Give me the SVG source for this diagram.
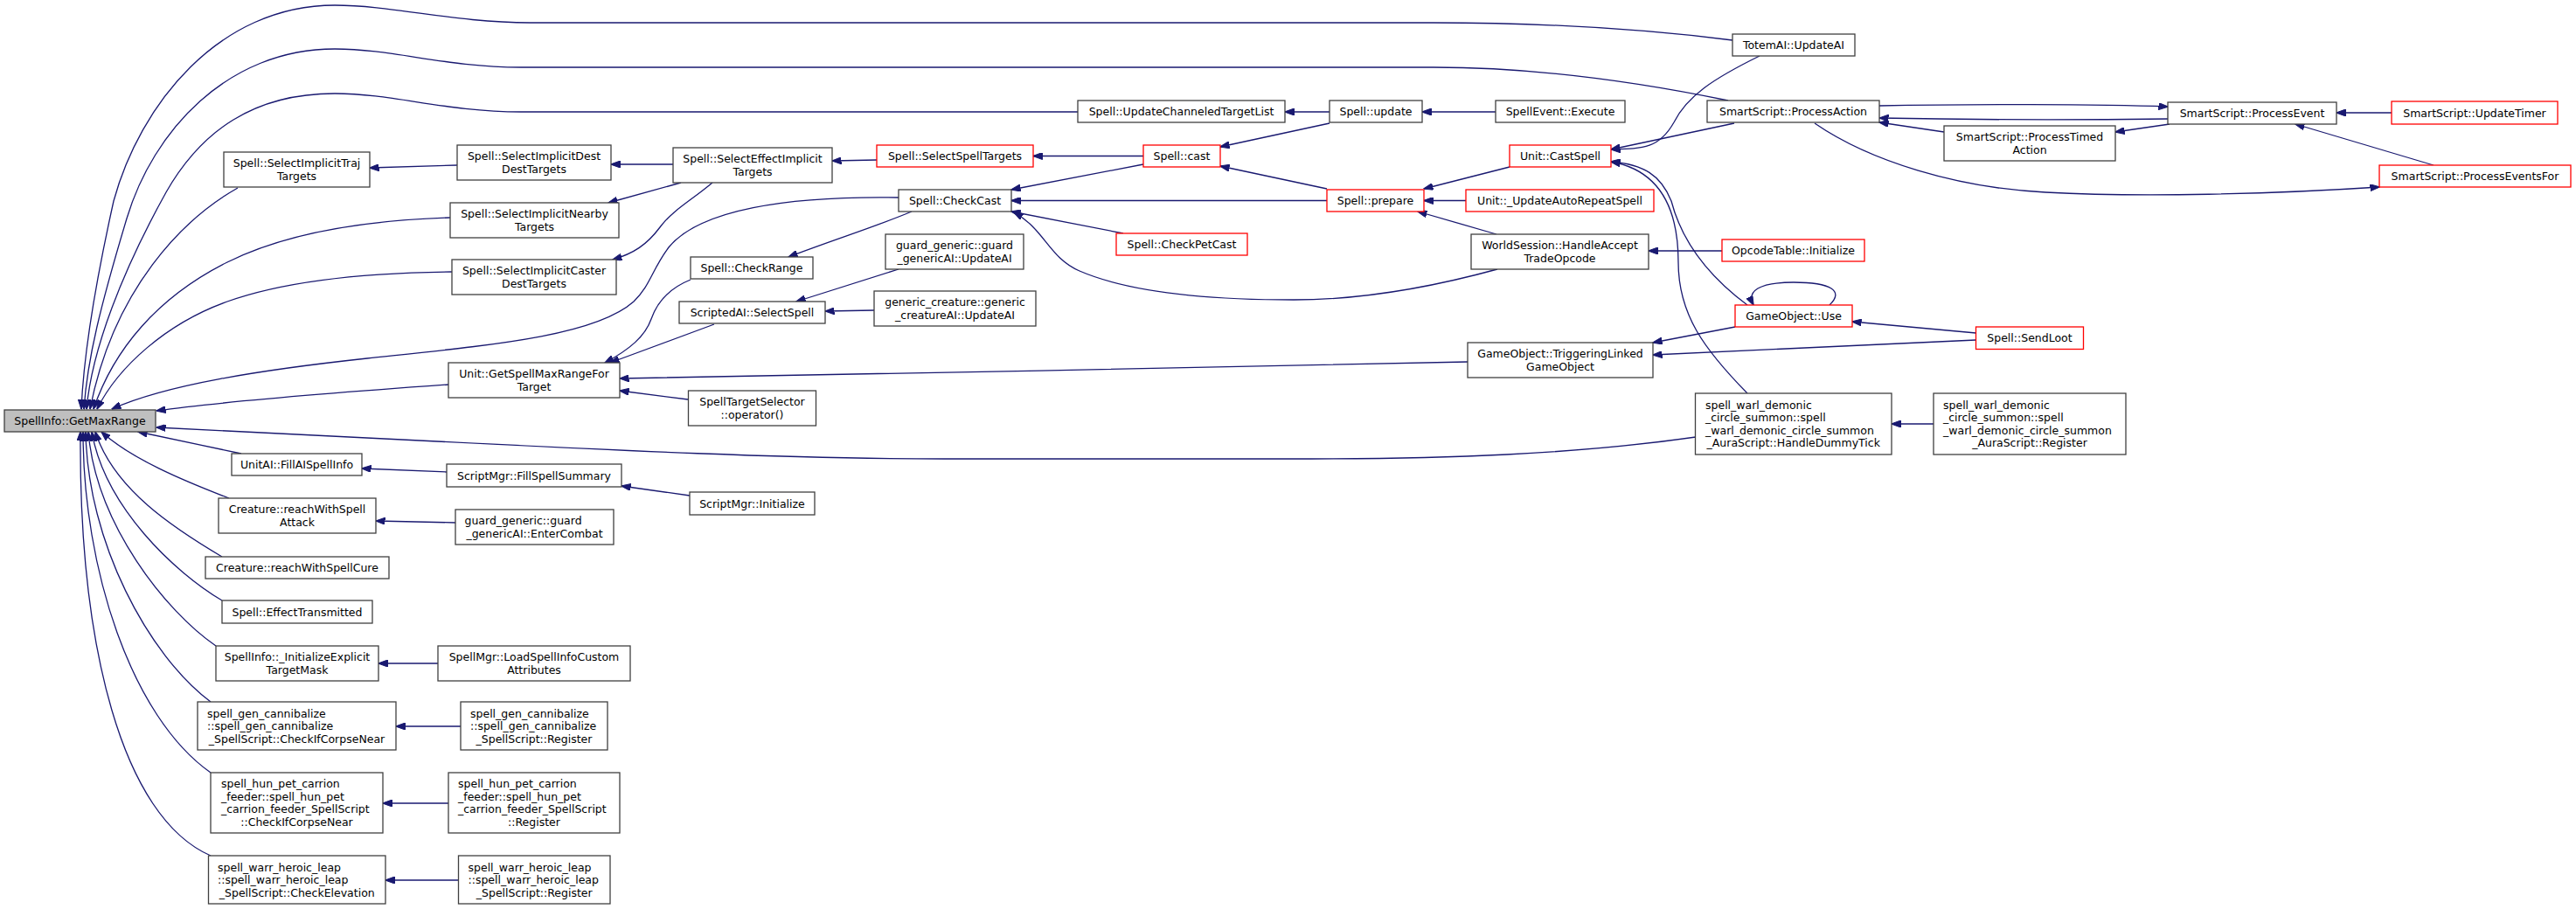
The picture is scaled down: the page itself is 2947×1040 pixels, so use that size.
<svg xmlns="http://www.w3.org/2000/svg" width="2947" height="1040" viewBox="0 0 2947 1040">
<style>
.bg{fill:#ffffff}
.n rect{fill:#ffffff;stroke:#404040;stroke-width:1.3}
.r rect{fill:#ffffff;stroke:#ff0000;stroke-width:1.3}
.g rect{fill:#bfbfbf;stroke:#404040;stroke-width:1.3}
text{font-family:"DejaVu Sans","Liberation Sans",sans-serif;font-size:12.5px;fill:#000000}
.c{text-anchor:middle}
.l{text-anchor:start}
.e path{fill:none;stroke:#191970;stroke-width:1.3;marker-end:url(#ah)}
</style>
<defs>
<marker id="ah" viewBox="0 0 11 8" refX="10.5" refY="4" markerWidth="11" markerHeight="8" orient="auto" markerUnits="userSpaceOnUse">
<path d="M0,0 L11,4 L0,8 z" fill="#191970" stroke="#191970" stroke-width="1"/>
</marker>
</defs>
<rect class="bg" x="0" y="0" width="2947" height="1040"/>

<g id="edges" class="e">
<!-- callers of root -->
<path d="M1982,46 C1880,33 1760,26 1640,26 L606,26 C520,26 450,6 383,6 C250,6 160,120 130,230 C110,320 96,400 93,468"/>
<path d="M1977,115 C1880,95 1760,77 1640,77 L596,77 C510,77 450,56 383,56 C260,56 175,150 145,250 C115,350 100,410 96,468"/>
<path d="M1233,128 L596,128 C510,128 450,107 383,107 C290,107 230,150 190,220 C140,310 105,400 99,468"/>
<path d="M272,215 C210,250 130,330 103,468"/>
<path d="M515,249 C420,252 330,265 260,300 C180,340 130,400 107,468"/>
<path d="M517,311 C420,312 330,320 260,345 C190,370 135,420 111,468"/>
<path d="M1028,226 C900,224 800,240 765,283 C745,310 745,325 725,345 C680,385 560,395 420,410 C300,423 190,440 128,468"/>
<path d="M513,440 C400,448 250,460 179,470"/>
<path d="M1940,500 C1800,520 1650,525 1500,525 L1080,525 C900,525 700,515 500,505 C350,498 250,493 179,489"/>
<path d="M276,519 L158,494"/>
<path d="M262,570 C210,550 150,525 116,494"/>
<path d="M254,637 C200,605 130,560 109,494"/>
<path d="M254,687 C200,655 120,580 105,494"/>
<path d="M247,739 C190,700 110,600 101,494"/>
<path d="M241,803 C170,750 100,620 98,494"/>
<path d="M241,884 C150,820 95,650 95,494"/>
<path d="M241,979 C140,935 90,740 92,494"/>
<!-- other edges -->
<path d="M523,189 L423,192"/>
<path d="M770,188 L699,188"/>
<path d="M779,209 L696,232"/>
<path d="M815,209 C790,230 770,240 755,260 C740,280 725,290 701,297"/>
<path d="M1003,183 L952,184"/>
<path d="M1308,178.5 L1182,178.5"/>
<path d="M1521,141 L1396,168"/>
<path d="M1518,216 L1396,190"/>
<path d="M1711,128 L1627,128"/>
<path d="M1521,128 L1470,128"/>
<path d="M1308,188 L1157,217"/>
<path d="M1518,229.5 L1157,229.5"/>
<path d="M1285,267 L1157,242"/>
<path d="M1713,308 C1640,328 1560,343 1480,343 C1400,343 1300,338 1235,310 C1200,295 1195,262 1160,243"/>
<path d="M1043,242 C1000,260 960,272 902,294"/>
<path d="M790,320 C765,330 752,345 745,365 C738,385 720,400 692,415"/>
<path d="M817,371 L698,415"/>
<path d="M1028,308 L911,345"/>
<path d="M1000,355 L944,356"/>
<path d="M1679,414 C1500,418 900,430 709,433"/>
<path d="M787,457 L709,447"/>
<path d="M511,540 L414,536"/>
<path d="M789,567 L711,556"/>
<path d="M521,598 L430,596"/>
<path d="M501,759 L433,759"/>
<path d="M527,831 L453,831"/>
<path d="M513,919 L438,919"/>
<path d="M524.5,1007 L441,1007"/>
<path d="M1727,191 L1629,216"/>
<path d="M1677,229.5 L1629,229.5"/>
<path d="M1712,268 L1622,242"/>
<path d="M2013,64 C1960,90 1930,110 1915,140 C1898,170 1880,170 1843,171"/>
<path d="M1984,141 L1843,171"/>
<path d="M1999,349 C1960,320 1925,280 1912,230 C1900,200 1880,188 1843,185"/>
<path d="M1999,450 C1950,400 1920,360 1920,300 C1920,240 1900,195 1843,185"/>
<path d="M1970,287 L1886,287"/>
<path d="M2093,349 C2110,333 2095,323 2052,323 C2012,323 1998,333 2006,349"/>
<path d="M1985,374 L1891,392"/>
<path d="M2260.5,389 L1891,406"/>
<path d="M2260.5,381 L2119,368"/>
<path d="M2212,485 L2164,485"/>
<path d="M2150,121 C2250,119 2400,119 2480,122"/>
<path d="M2480,136 C2400,137 2250,137 2150,135"/>
<path d="M2224,151 L2150,140"/>
<path d="M2482,142 L2420,151"/>
<path d="M2076,141 C2140,185 2240,215 2340,220 C2450,226 2600,222 2722,214"/>
<path d="M2736,129 L2673,129"/>
<path d="M2784,189 L2626,142"/>
</g>

<g id="n_root" class="g"><rect x="5" y="469" width="173" height="25"/><text class="c" x="91.5" y="486">SpellInfo::GetMaxRange</text></g>
<g id="n_traj" class="n"><rect x="256" y="174" width="167" height="40"/><text class="c" x="339.5" y="191.25">Spell::SelectImplicitTraj</text><text class="c" x="339.5" y="205.75">Targets</text></g>
<g id="n_dest" class="n"><rect x="523" y="166" width="176" height="40"/><text class="c" x="611" y="183.25">Spell::SelectImplicitDest</text><text class="c" x="611" y="197.75">DestTargets</text></g>
<g id="n_nearby" class="n"><rect x="515" y="232" width="193" height="40"/><text class="c" x="611.5" y="249.25">Spell::SelectImplicitNearby</text><text class="c" x="611.5" y="263.75">Targets</text></g>
<g id="n_caster" class="n"><rect x="517" y="297" width="188" height="40"/><text class="c" x="611" y="314.25">Spell::SelectImplicitCaster</text><text class="c" x="611" y="328.75">DestTargets</text></g>
<g id="n_effect" class="n"><rect x="770" y="169" width="182" height="40"/><text class="c" x="861" y="186.25">Spell::SelectEffectImplicit</text><text class="c" x="861" y="200.75">Targets</text></g>
<g id="n_selspell" class="r"><rect x="1003" y="166" width="179" height="25"/><text class="c" x="1092.5" y="183">Spell::SelectSpellTargets</text></g>
<g id="n_cast" class="r"><rect x="1308" y="166" width="88" height="25"/><text class="c" x="1352" y="183">Spell::cast</text></g>
<g id="n_chan" class="n"><rect x="1233" y="115" width="237" height="25"/><text class="c" x="1351.5" y="132">Spell::UpdateChanneledTargetList</text></g>
<g id="n_checkcast" class="n"><rect x="1028" y="217" width="129" height="25"/><text class="c" x="1092.5" y="234">Spell::CheckCast</text></g>
<g id="n_checkpet" class="r"><rect x="1277" y="267" width="150" height="25"/><text class="c" x="1352" y="284">Spell::CheckPetCast</text></g>
<g id="n_checkrange" class="n"><rect x="790" y="294" width="140" height="25"/><text class="c" x="860" y="311">Spell::CheckRange</text></g>
<g id="n_guardupd" class="n"><rect x="1013" y="268" width="158" height="40"/><text class="c" x="1092" y="285.25">guard_generic::guard</text><text class="c" x="1092" y="299.75">_genericAI::UpdateAI</text></g>
<g id="n_scripted" class="n"><rect x="777" y="345" width="167" height="25"/><text class="c" x="860.5" y="362">ScriptedAI::SelectSpell</text></g>
<g id="n_genupd" class="n"><rect x="1000" y="333" width="185" height="40"/><text class="c" x="1092.5" y="350.25">generic_creature::generic</text><text class="c" x="1092.5" y="364.75">_creatureAI::UpdateAI</text></g>
<g id="n_totem" class="n"><rect x="1982" y="39" width="140" height="25"/><text class="c" x="2052" y="56">TotemAI::UpdateAI</text></g>
<g id="n_update" class="n"><rect x="1521" y="115" width="106" height="25"/><text class="c" x="1574" y="132">Spell::update</text></g>
<g id="n_execute" class="n"><rect x="1711" y="115" width="148" height="25"/><text class="c" x="1785" y="132">SpellEvent::Execute</text></g>
<g id="n_paction" class="n"><rect x="1953" y="115" width="197" height="25"/><text class="c" x="2051.5" y="132">SmartScript::ProcessAction</text></g>
<g id="n_castspell" class="r"><rect x="1727" y="166" width="116" height="25"/><text class="c" x="1785" y="183">Unit::CastSpell</text></g>
<g id="n_prepare" class="r"><rect x="1518" y="217" width="111" height="25"/><text class="c" x="1573.5" y="234">Spell::prepare</text></g>
<g id="n_autorep" class="r"><rect x="1677" y="217" width="215" height="25"/><text class="c" x="1784.5" y="234">Unit::_UpdateAutoRepeatSpell</text></g>
<g id="n_trade" class="n"><rect x="1683" y="268" width="203" height="40"/><text class="c" x="1784.5" y="285.25">WorldSession::HandleAccept</text><text class="c" x="1784.5" y="299.75">TradeOpcode</text></g>
<g id="n_opcode" class="r"><rect x="1970" y="274" width="163" height="25"/><text class="c" x="2051.5" y="291">OpcodeTable::Initialize</text></g>
<g id="n_gouse" class="r"><rect x="1985" y="349" width="134" height="25"/><text class="c" x="2052" y="366">GameObject::Use</text></g>
<g id="n_ptimed" class="n"><rect x="2224" y="144" width="196" height="40"/><text class="c" x="2322" y="161.25">SmartScript::ProcessTimed</text><text class="c" x="2322" y="175.75">Action</text></g>
<g id="n_pevent" class="n"><rect x="2480" y="117" width="193" height="25"/><text class="c" x="2576.5" y="134">SmartScript::ProcessEvent</text></g>
<g id="n_updtimer" class="r"><rect x="2736" y="116" width="190" height="26"/><text class="c" x="2831" y="133.5">SmartScript::UpdateTimer</text></g>
<g id="n_peventsfor" class="r"><rect x="2722" y="189" width="219" height="25"/><text class="c" x="2831.5" y="206">SmartScript::ProcessEventsFor</text></g>
<g id="n_maxrangefor" class="n"><rect x="513" y="415" width="196" height="40"/><text class="c" x="611" y="432.25">Unit::GetSpellMaxRangeFor</text><text class="c" x="611" y="446.75">Target</text></g>
<g id="n_fillai" class="n"><rect x="265" y="519" width="149" height="25"/><text class="c" x="339.5" y="536">UnitAI::FillAISpellInfo</text></g>
<g id="n_fillsum" class="n"><rect x="511" y="531" width="200" height="26"/><text class="c" x="611" y="548.5">ScriptMgr::FillSpellSummary</text></g>
<g id="n_reachatk" class="n"><rect x="250" y="570" width="180" height="40"/><text class="c" x="340" y="587.25">Creature::reachWithSpell</text><text class="c" x="340" y="601.75">Attack</text></g>
<g id="n_guardcombat" class="n"><rect x="521" y="583" width="181" height="40"/><text class="l" x="531.5" y="600.25">guard_generic::guard</text><text class="c" x="611.5" y="614.75">_genericAI::EnterCombat</text></g>
<g id="n_cure" class="n"><rect x="235" y="637" width="210" height="25"/><text class="c" x="340" y="654">Creature::reachWithSpellCure</text></g>
<g id="n_efftrans" class="n"><rect x="254" y="687" width="172" height="26"/><text class="c" x="340" y="704.5">Spell::EffectTransmitted</text></g>
<g id="n_initexp" class="n"><rect x="247" y="739" width="186" height="40"/><text class="c" x="340" y="756.25">SpellInfo::_InitializeExplicit</text><text class="c" x="340" y="770.75">TargetMask</text></g>
<g id="n_loadcustom" class="n"><rect x="501" y="739" width="220" height="40"/><text class="c" x="611" y="756.25">SpellMgr::LoadSpellInfoCustom</text><text class="c" x="611" y="770.75">Attributes</text></g>
<g id="n_cannchk" class="n"><rect x="226" y="803" width="227" height="55"/><text class="l" x="237" y="820.5">spell_gen_cannibalize</text><text class="l" x="237" y="835">::spell_gen_cannibalize</text><text class="c" x="339.5" y="849.5">_SpellScript::CheckIfCorpseNear</text></g>
<g id="n_cannreg" class="n"><rect x="527" y="803" width="168" height="55"/><text class="l" x="538" y="820.5">spell_gen_cannibalize</text><text class="l" x="538" y="835">::spell_gen_cannibalize</text><text class="c" x="611" y="849.5">_SpellScript::Register</text></g>
<g id="n_hunchk" class="n"><rect x="241" y="884" width="197" height="69"/><text class="l" x="253" y="901.25">spell_hun_pet_carrion</text><text class="l" x="253" y="915.75">_feeder::spell_hun_pet</text><text class="l" x="253" y="930.25">_carrion_feeder_SpellScript</text><text class="c" x="339.5" y="944.75">::CheckIfCorpseNear</text></g>
<g id="n_hunreg" class="n"><rect x="513" y="884" width="196" height="69"/><text class="l" x="524" y="901.25">spell_hun_pet_carrion</text><text class="l" x="524" y="915.75">_feeder::spell_hun_pet</text><text class="l" x="524" y="930.25">_carrion_feeder_SpellScript</text><text class="c" x="611" y="944.75">::Register</text></g>
<g id="n_warrchk" class="n"><rect x="238.5" y="979" width="202.5" height="55"/><text class="l" x="249" y="996.5">spell_warr_heroic_leap</text><text class="l" x="249" y="1011">::spell_warr_heroic_leap</text><text class="c" x="339.75" y="1025.5">_SpellScript::CheckElevation</text></g>
<g id="n_warrreg" class="n"><rect x="524.5" y="979" width="173.5" height="55"/><text class="l" x="535.5" y="996.5">spell_warr_heroic_leap</text><text class="l" x="535.5" y="1011">::spell_warr_heroic_leap</text><text class="c" x="611.25" y="1025.5">_SpellScript::Register</text></g>
<g id="n_seltarget" class="n"><rect x="787.5" y="447" width="146" height="40"/><text class="c" x="860.5" y="464.25">SpellTargetSelector</text><text class="c" x="860.5" y="478.75">::operator()</text></g>
<g id="n_smgrinit" class="n"><rect x="789" y="563" width="143" height="26"/><text class="c" x="860.5" y="580.5">ScriptMgr::Initialize</text></g>
<g id="n_triglink" class="n"><rect x="1679" y="392" width="212" height="40"/><text class="c" x="1785" y="409.25">GameObject::TriggeringLinked</text><text class="c" x="1785" y="423.75">GameObject</text></g>
<g id="n_warltick" class="n"><rect x="1939.5" y="450" width="224.5" height="70"/><text class="l" x="1951" y="467.75">spell_warl_demonic</text><text class="l" x="1951" y="482.25">_circle_summon::spell</text><text class="l" x="1951" y="496.75">_warl_demonic_circle_summon</text><text class="c" x="2051.75" y="511.25">_AuraScript::HandleDummyTick</text></g>
<g id="n_warlreg" class="n"><rect x="2212" y="450" width="220" height="70"/><text class="l" x="2223" y="467.75">spell_warl_demonic</text><text class="l" x="2223" y="482.25">_circle_summon::spell</text><text class="l" x="2223" y="496.75">_warl_demonic_circle_summon</text><text class="c" x="2322" y="511.25">_AuraScript::Register</text></g>
<g id="n_sendloot" class="r"><rect x="2260.5" y="374" width="123" height="25.5"/><text class="c" x="2322" y="391.25">Spell::SendLoot</text></g>
</svg>
